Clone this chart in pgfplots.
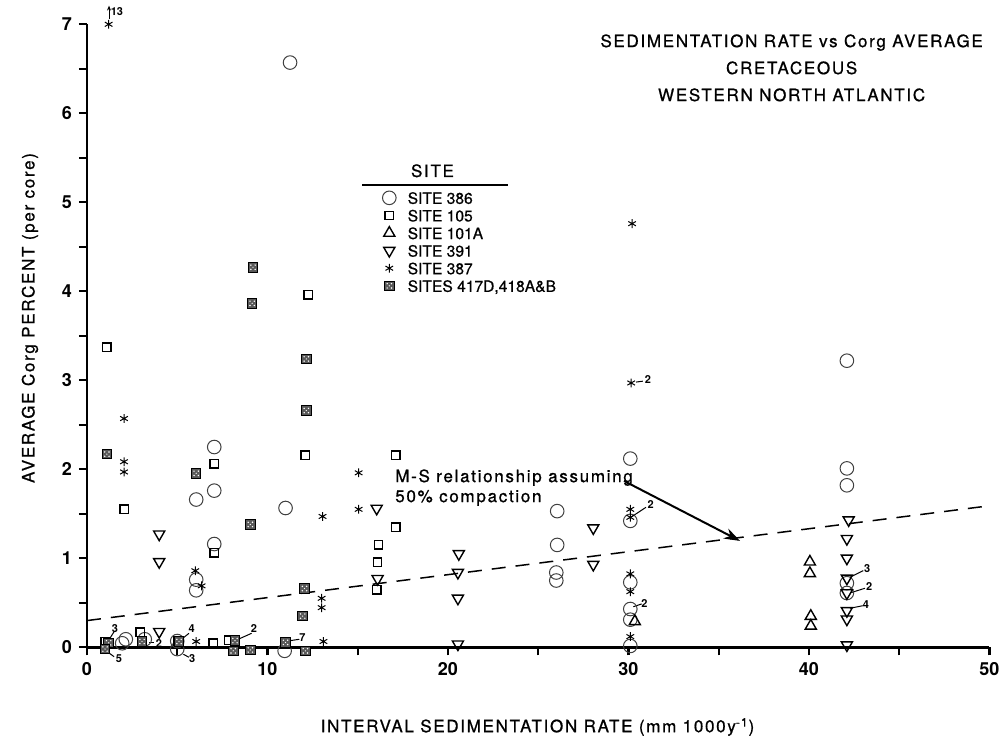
\documentclass[border=0pt]{standalone}
\usepackage{pgfplots}
\pgfplotsset{compat=1.18}
\usepackage{pgfplotstable}
\usetikzlibrary{arrows.meta}
\usepackage{fontspec}
\setmainfont{TeX Gyre Heros}
\newfontfamily\spaced[LetterSpace=10, FakeBold=0.8]{TeX Gyre Heros}
\newfontfamily\legfam[FakeBold=0.6]{TeX Gyre Heros}
\newcommand\labelfont{\spaced\fontsize{8.5}{10}\selectfont}
\newcommand\titlefont{\spaced\fontsize{8.5}{13.5}\selectfont}
\newcommand\tickfont{\bfseries\fontsize{9}{10}\selectfont}
\newcommand\legfont{\legfam\fontsize{7.8}{9}\selectfont}
\newcommand\numfont{\bfseries\fontsize{5.5}{6}\selectfont}

\pgfdeclareplotmark{hatchsq}{%
  \pgfpathrectangle{\pgfqpoint{-\pgfplotmarksize}{-\pgfplotmarksize}}{\pgfqpoint{2\pgfplotmarksize}{2\pgfplotmarksize}}%
  \pgfusepathqfillstroke
  \pgfscope
  \pgfsetfillcolor{white}%
  \pgfpathcircle{\pgfqpoint{0.45\pgfplotmarksize}{0.45\pgfplotmarksize}}{0.17\pgfplotmarksize}%
  \pgfpathcircle{\pgfqpoint{-0.45\pgfplotmarksize}{0.45\pgfplotmarksize}}{0.17\pgfplotmarksize}%
  \pgfpathcircle{\pgfqpoint{0.45\pgfplotmarksize}{-0.45\pgfplotmarksize}}{0.17\pgfplotmarksize}%
  \pgfpathcircle{\pgfqpoint{-0.45\pgfplotmarksize}{-0.45\pgfplotmarksize}}{0.17\pgfplotmarksize}%
  \pgfpathcircle{\pgfqpoint{0pt}{0pt}}{0.14\pgfplotmarksize}%
  \pgfusepathqfill
  \endpgfscope
}

\pgfplotstableread{
x y
11.25 6.57
7.05 2.25
7.05 1.76
6.05 1.66
7.05 1.16
6.05 0.76
6.05 0.64
11.0 1.565
1.95 0.045
2.15 0.09
3.2 0.09
5.0 0.07
5.0 -0.02
10.95 -0.04
26.05 1.53
26.05 1.15
26.0 0.84
26.0 0.75
30.1 2.12
30.1 1.42
30.1 0.73
30.1 0.43
30.1 0.31
30.1 0.015
42.1 3.22
42.1 2.01
42.1 1.82
42.1 0.72
42.1 0.61
}\siteA

\pgfplotstableread{
x y
1.1 3.37
2.05 1.55
7.05 2.06
7.05 1.06
12.25 3.96
12.1 2.16
17.1 2.16
17.1 1.35
16.15 1.15
16.1 0.955
16.05 0.645
1.0 0.065
2.95 0.17
7.0 0.045
7.85 0.08
5.05 0.07
}\siteB

\pgfplotstableread{
x y
30.35 0.29
40.05 0.96
40.05 0.83
40.1 0.35
40.1 0.24
}\siteC

\pgfplotstableread{
x y
4.0 1.27
4.0 0.96
4.0 0.175
16.05 1.56
16.1 0.77
20.6 1.05
20.55 0.84
20.55 0.55
20.55 0.035
28.05 1.34
28.05 0.93
42.2 1.43
42.1 1.22
42.1 1.0
42.1 0.775
42.1 0.61
42.1 0.41
42.1 0.315
42.1 0.025
}\siteD

\pgfplotstableread{
x y
1.2 7.0
2.05 2.57
2.05 2.085
2.05 1.97
6.0 0.86
6.35 0.69
6.05 0.065
13.05 1.47
13.0 0.55
13.0 0.445
13.1 0.065
15.05 1.96
15.05 1.55
30.2 4.76
30.15 2.97
30.1 1.55
30.1 1.46
30.1 0.825
30.1 0.625
30.1 0.12
}\siteE

\pgfplotstableread{
x y
1.1 2.17
6.05 1.955
9.2 4.27
9.15 3.865
12.15 3.24
12.15 2.66
9.05 1.38
12.05 0.66
11.95 0.35
1.2 0.05
1.0 -0.02
3.05 0.065
5.1 0.065
8.2 0.075
8.1 -0.04
9.05 -0.03
11.0 0.055
12.1 -0.04
}\siteF

\begin{document}
\begin{tikzpicture}
\begin{axis}[
  scale only axis, width=451.25pt, height=311.5pt,
  xmin=0, xmax=50, ymin=0, ymax=7,
  axis lines=left, axis line style={-, line width=1.3pt},
  xtick={0,10,...,50}, ytick={0,1,...,7},
  minor xtick={5,15,...,45}, minor ytick={0.5,1.5,...,6.5},
  tick align=outside, major tick length=4pt, minor tick length=4pt,
  every tick/.style={black, line width=1.1pt},
  tick label style={font=\tickfont},
  /pgf/number format/assume math mode=true,
  clip=false,
  legend style={at={(axis cs:16.35,5.14)}, anchor=north west, draw=none, fill=none,
    inner sep=0pt, column sep=5pt, row sep=1.2pt, font=\legfont,
    nodes={inner sep=0.8pt, text height=6pt, text depth=0pt}},
  legend cell align=left,
  legend image code/.code={\draw[#1] plot coordinates {(0pt,0pt)};},
]
\coordinate (bl) at (axis cs:-4.82,-1.120);
\coordinate (tr) at (axis cs:50.75,7.273);

\addplot[black, line width=0.75pt, dash pattern=on 7pt off 5pt, forget plot] coordinates {(0,0.30) (50,1.59)};

\addplot[only marks, mark=o, mark size=3.4pt, mark options={draw=black!75, line width=0.5pt}] table {\siteA};
\addlegendentry{SITE 386}
\addplot[only marks, mark=square, mark size=2.1pt, mark options={draw=black, line width=0.7pt}] table {\siteB};
\addlegendentry{SITE 105}
\addplot[only marks, mark=triangle, mark size=3.2pt, mark options={draw=black, line width=0.7pt}] table {\siteC};
\addlegendentry{SITE 101A}
\addplot[only marks, mark=triangle, mark size=3.2pt, mark options={draw=black, line width=0.7pt, rotate=180}] table {\siteD};
\addlegendentry{SITE 391}
\addplot[only marks, mark=asterisk, mark size=2.2pt, mark options={draw=black, line width=0.5pt}] table {\siteE};
\addlegendentry{SITE 387}
\addplot[only marks, mark=hatchsq, mark size=2.4pt, mark options={draw=black, fill=black!65, line width=0.5pt}] table {\siteF};
\addlegendentry{SITES 417D,418A\&B}

% legend header
\node[font=\labelfont] at (axis cs:19.14,5.354) {SITE};
\draw[line width=0.6pt] (axis cs:15.25,5.194) -- (axis cs:23.31,5.194);

% title
\node[align=center, font=\titlefont] at (axis cs:39.04,6.51) {SEDIMENTATION RATE vs Corg AVERAGE\\CRETACEOUS\\WESTERN NORTH ATLANTIC};

% axis labels
\node[rotate=90, font=\labelfont] at (axis cs:-3.16,3.70) {AVERAGE Corg PERCENT (per core)};
\node[font=\labelfont] at (axis cs:24.96,-0.896) {INTERVAL SEDIMENTATION RATE (mm 1000y\textsuperscript{-1})};

% M-S annotation
\node[anchor=north west, align=left, font=\labelfont, inner sep=0pt] at (axis cs:17.06,2.003) {M-S relationship assuming\\50\% compaction};
\draw[line width=1pt, -{Stealth[length=8pt,width=5.5pt]}] (axis cs:29.75,1.869) -- (axis cs:36.18,1.195);

% off-scale marker
\draw[line width=0.5pt, -{Stealth[length=2.5pt,width=2pt]}] (axis cs:1.22,7.06) -- (axis cs:1.22,7.21);
\node[anchor=west, font=\numfont, inner sep=0pt] at (axis cs:1.30,7.14) {13};

% multiplicity labels
\begin{scope}[line width=0.5pt]
\draw (axis cs:1.50,0.175) -- (axis cs:1.27,0.101);
\node[font=\numfont, inner sep=0pt] at (axis cs:1.55,0.213) {3};
\draw (axis cs:1.50,-0.106) -- (axis cs:1.12,-0.049);
\node[font=\numfont, inner sep=0pt] at (axis cs:1.77,-0.128) {5};
\draw (axis cs:3.45,0.056) -- (axis cs:3.73,0.056);
\node[font=\numfont, inner sep=0pt] at (axis cs:3.99,0.045) {2};
\draw (axis cs:5.65,0.157) -- (axis cs:5.19,0.082);
\node[font=\numfont, inner sep=0pt] at (axis cs:5.80,0.206) {4};
\draw (axis cs:5.34,-0.079) -- (axis cs:5.65,-0.112);
\node[font=\numfont, inner sep=0pt] at (axis cs:5.83,-0.131) {3};
\draw (axis cs:9.12,0.157) -- (axis cs:8.29,0.082);
\node[font=\numfont, inner sep=0pt] at (axis cs:9.25,0.206) {2};
\draw (axis cs:11.25,0.074) -- (axis cs:11.76,0.09);
\node[font=\numfont, inner sep=0pt] at (axis cs:11.93,0.112) {7};
\draw (axis cs:30.18,1.467) -- (axis cs:30.97,1.573);
\node[font=\numfont, inner sep=0pt] at (axis cs:31.23,1.599) {2};
\draw (axis cs:30.27,0.456) -- (axis cs:30.73,0.487);
\node[font=\numfont, inner sep=0pt] at (axis cs:30.88,0.494) {2};
\draw (axis cs:30.42,2.98) -- (axis cs:30.80,2.99);
\node[font=\numfont, inner sep=0pt] at (axis cs:31.08,3.003) {2};
\draw (axis cs:42.27,0.787) -- (axis cs:43.01,0.861);
\node[font=\numfont, inner sep=0pt] at (axis cs:43.23,0.888) {3};
\draw (axis cs:42.31,0.613) -- (axis cs:43.10,0.663);
\node[font=\numfont, inner sep=0pt] at (axis cs:43.34,0.681) {2};
\draw (axis cs:42.27,0.438) -- (axis cs:42.98,0.467);
\node[font=\numfont, inner sep=0pt] at (axis cs:43.16,0.475) {4};
\end{scope}
\end{axis}
\pgfresetboundingbox
\useasboundingbox (bl) rectangle (tr);
\end{tikzpicture}
\end{document}
